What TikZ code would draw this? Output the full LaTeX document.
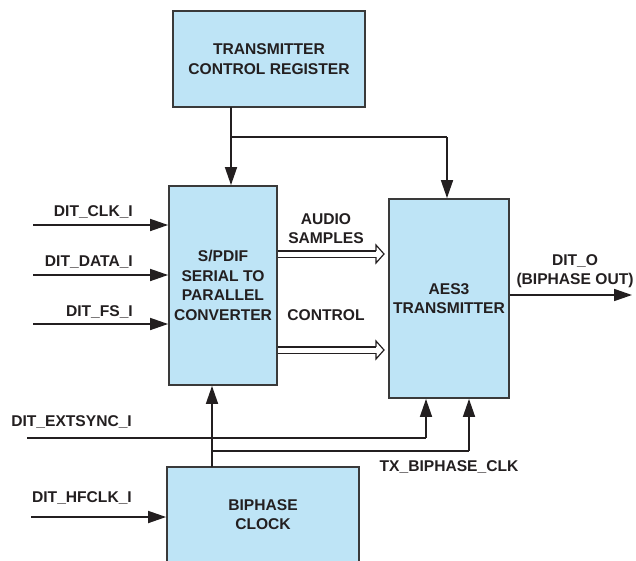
\documentclass[tikz,border=0pt]{standalone}
\usepackage{fontspec}
\setmainfont{Liberation Sans}
\usetikzlibrary{arrows.meta}
\definecolor{boxfill}{HTML}{BEE4F6}
\definecolor{ink}{HTML}{231F20}
\definecolor{edgec}{HTML}{3A3A3A}
\tikzset{
  blk/.style={draw=edgec, line width=1.8pt, fill=boxfill, inner sep=0pt, align=center,
    font=\fontsize{15.6}{19.5}\selectfont\bfseries, text=ink},
  conn/.style={draw=ink, line width=1.7pt, -{Triangle[length=18pt,width=12pt]}},
  wire/.style={draw=ink, line width=1.7pt},
  sig/.style={font=\fontsize{15.6}{18.5}\selectfont\bfseries, text=ink, inner sep=0pt, align=center},
  busline/.style={draw=ink, line width=1.2pt, double=white, double distance=5pt},
  bushead/.style={draw=ink, line width=1.2pt, line join=miter},
}
\begin{document}
\begin{tikzpicture}[x=1pt,y=-1pt]
\useasboundingbox (0,0) rectangle (636,560);
% blocks
\node[blk, minimum width=192pt, minimum height=96pt] (tcr) at (269,59) {TRANSMITTER\\CONTROL REGISTER};
\node[blk, minimum width=108pt, minimum height=199pt] (spdif) at (223,285.5) {S/PDIF\\SERIAL TO\\PARALLEL\\CONVERTER};
\node[blk, minimum width=120pt, minimum height=199pt] (aes) at (449,298.5) {AES3\\TRANSMITTER};
\node[blk, minimum width=192pt, minimum height=95pt] (bip) at (263,514.5) {BIPHASE\\CLOCK};
% control register connections
\coordinate (tcrout) at (231,107);
\coordinate (split1) at (231,137);
\coordinate (bend1) at (447,137);
\draw[conn] (tcrout) -- (spdif.north -| tcrout);
\draw[wire] (split1) -- (bend1);
\draw[conn] (bend1) -- (aes.north -| bend1);
% inputs
\coordinate (clkin) at (33,225);
\coordinate (datain) at (33,275);
\coordinate (fsin) at (33,324);
\draw[conn] (clkin) -- (spdif.west |- clkin);
\draw[conn] (datain) -- (spdif.west |- datain);
\draw[conn] (fsin) -- (spdif.west |- fsin);
\node[sig, anchor=east] (lclk) at (133,212) {DIT\_CLK\_I};
\node[sig, anchor=east] (ldata) at (133,262) {DIT\_DATA\_I};
\node[sig, anchor=east] (lfs) at (133,312) {DIT\_FS\_I};
% buses
\coordinate (bus1a) at (spdif.east |- 0,254);
\coordinate (bus1b) at (376,254);
\coordinate (bus2a) at (spdif.east |- 0,350);
\coordinate (bus2b) at (376,350);
\draw[busline] (bus1a) -- (bus1b);
\draw[bushead] (376,250.9) -- (376,245) -- (384,254) -- (376,263) -- (376,257.1);
\draw[busline] (bus2a) -- (bus2b);
\draw[bushead] (376,346.9) -- (376,341) -- (384,350) -- (376,359) -- (376,353.1);
\node[sig] (laudio) at (326,228.5) {AUDIO\\SAMPLES};
\node[sig] (lctrl) at (326,315) {CONTROL};
% output
\coordinate (outend) at (632,295);
\draw[conn] (aes.east |- outend) -- (outend);
\node[sig] (lout) at (575,271) {DIT\_O\\(BIPHASE OUT)};
% extsync
\coordinate (extin) at (27,438);
\coordinate (extbend) at (426,438);
\draw[wire] (extin) -- (extbend);
\draw[conn] (extbend) -- (aes.south -| extbend);
\node[sig, anchor=east] (lext) at (132,422) {DIT\_EXTSYNC\_I};
% biphase clock
\coordinate (bipout) at (212,467);
\coordinate (split2) at (212,451);
\coordinate (bend2) at (469,451);
\draw[conn] (bipout) -- (spdif.south -| bipout);
\draw[wire] (split2) -- (bend2);
\draw[conn] (bend2) -- (aes.south -| bend2);
\node[sig] (ltx) at (449,467) {TX\_BIPHASE\_CLK};
% hfclk
\coordinate (hfin) at (31,517);
\draw[conn] (hfin) -- (bip.west |- hfin);
\node[sig, anchor=east] (lhf) at (132,498) {DIT\_HFCLK\_I};
\end{tikzpicture}
\end{document}
